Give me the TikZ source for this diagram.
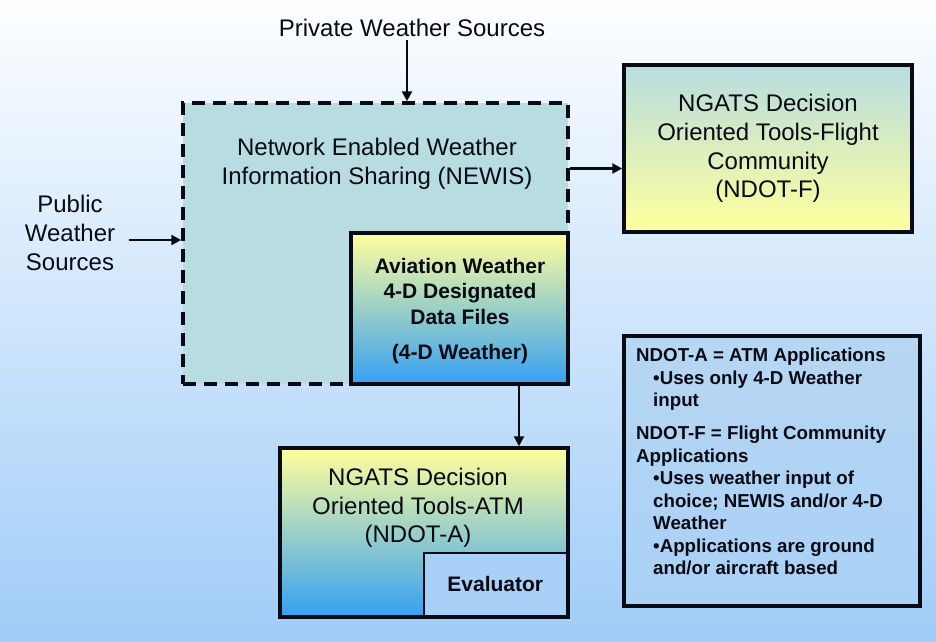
\documentclass[tikz,border=0pt]{standalone}
\usepackage{fontspec}
\setmainfont{Liberation Sans}
\usetikzlibrary{arrows.meta,positioning}
\definecolor{cink}{HTML}{0A0A14}
\definecolor{cbgtop}{HTML}{FDFEFF}
\definecolor{cbgbot}{HTML}{A0CCF8}
\definecolor{cteal}{HTML}{B8DDE0}
\definecolor{cyel}{HTML}{FFFF9C}
\definecolor{cblue}{HTML}{36A0F2}
\definecolor{clight}{HTML}{A9D0F6}
\definecolor{cleg}{HTML}{B6D7F2}
\tikzset{
  wbox/.style={rectangle, draw=cink, line width=3.5pt, inner sep=0pt},
  dashbox/.style={rectangle, draw=cink, line width=3.5pt, dash pattern=on 13pt off 8pt,
    fill=cteal},
  lbl/.style={align=center, font=\fontsize{24}{28.6}\selectfont, text=cink},
  blbl/.style={align=center, font=\fontsize{21}{25.5}\selectfont\bfseries, text=cink},
  legtxt/.style={align=left, anchor=north west, inner sep=0pt,
    font=\fontsize{18.7}{22.5}\selectfont\bfseries, text=cink},
  arr/.style={-{Triangle[length=10pt,width=10pt]}, line width=2.8pt, draw=cink},
}

\begin{document}
\begin{tikzpicture}[x=1pt, y=-1pt]
  \useasboundingbox (0,0) rectangle (936,641);
  \shade[top color=cbgtop, bottom color=cbgbot] (0,0) rectangle (936,641);

  \node[dashbox, minimum width=385pt, minimum height=281pt] (newis) at (375.5,243.5) {};
  \node[lbl] (newistxt) at (377,164) {Network Enabled Weather\\Information Sharing (NEWIS)};
  \node[wbox, top color=cyel, middle color=cteal, bottom color=cblue,
    minimum width=217pt, minimum height=151pt] (wx4d) at (459.5,308.5) {};
  \node[blbl] (wx4dtxt) at (460,311) {Aviation Weather\\4-D Designated\\Data Files\\[10pt](4-D Weather)};

  \node[wbox, top color=cteal, bottom color=cyel, lbl,
    minimum width=288pt, minimum height=167pt] (ndotf) at (768,148.5)
    {NGATS Decision\\Oriented Tools-Flight\\Community\\(NDOT-F)};

  \node[wbox, top color=cyel, middle color=cteal, bottom color=cblue,
    minimum width=288pt, minimum height=169pt] (ndota) at (424,532.5) {};
  \node[lbl] (ndotatxt) at (418,508) {NGATS Decision\\Oriented Tools-ATM\\(NDOT-A)};
  \node[rectangle, draw=cink, line width=1.2pt, fill=clight, blbl,
    minimum width=142.5pt, minimum height=62.5pt] (evaluator) at (495.25,584.25) {Evaluator};

  \node[lbl] (private) at (412,28) {Private Weather Sources};
  \node[lbl] (public) at (70,233) {Public\\Weather\\Sources};

  % legend
  \node[wbox, top color=cleg, bottom color=clight,
    minimum width=296pt, minimum height=270pt] (legend) at (772,471) {};
  \node[legtxt] (legendtxt) at (636,348) {NDOT-A = ATM Applications\\
    \hspace*{17pt}•Uses only 4-D Weather\\
    \hspace*{17pt}input\\[10.5pt]
    NDOT-F = Flight Community\\
    Applications\\
    \hspace*{17pt}•Uses weather input of\\
    \hspace*{17pt}choice; NEWIS and/or 4-D\\
    \hspace*{17pt}Weather\\
    \hspace*{17pt}•Applications are ground\\
    \hspace*{17pt}and/or aircraft based};

  \draw[arr] ([xshift=-5pt]private.south) -- ([xshift=-5pt]private.south |- newis.north);
  \draw[arr] ([xshift=10pt,yshift=-7pt]public.east) -- ([yshift=-7pt]public.east -| newis.west);
  \draw[arr] ([yshift=-20pt]ndotf.west -| newis.east) -- ([yshift=-20pt]ndotf.west);
  \draw[arr] ([xshift=59.5pt]wx4d.south) -- ([xshift=59.5pt]wx4d.south |- ndota.north);
\end{tikzpicture}
\end{document}
